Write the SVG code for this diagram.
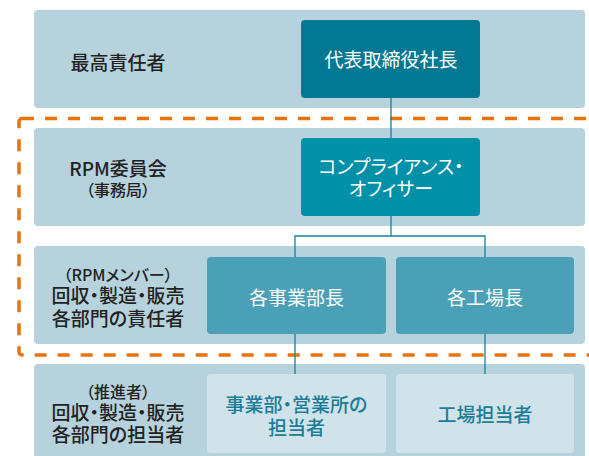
<svg xmlns="http://www.w3.org/2000/svg" width="589" height="456" viewBox="0 0 589 456">
<style>
.band{fill:#b6d3dd}
.lbl{font-family:"Noto Sans CJK JP","Noto Sans",sans-serif;font-size:19px;font-weight:500;fill:#222;text-anchor:middle;font-feature-settings:"palt"}
.sm{font-size:16px}
.nt{font-family:"Noto Sans CJK JP","Noto Sans",sans-serif;font-size:19px;font-weight:400;fill:#fff;text-anchor:middle;font-feature-settings:"palt"}
.bt{font-family:"Noto Sans CJK JP","Noto Sans",sans-serif;font-size:19px;font-weight:500;fill:#1b7d96;text-anchor:middle;font-feature-settings:"palt"}
.con{fill:none;stroke:#18809a;stroke-width:1.3}
</style>
<rect width="589" height="456" fill="#fff"/>
<g id="bands">
<rect class="band" x="34" y="10" width="551" height="98" rx="4"/>
<rect class="band" x="34" y="128" width="551" height="98" rx="4"/>
<rect class="band" x="34" y="246" width="551" height="98" rx="4"/>
<rect class="band" x="34" y="364" width="551" height="100" rx="4"/>
</g>
<g id="levels">
<text class="lbl" x="118" y="70">最高責任者</text>
<text class="lbl" x="118" y="176">RPM委員会</text>
<text class="lbl sm" x="118" y="196">（事務局）</text>
<text class="lbl sm" x="118" y="281">（RPMメンバー）</text>
<text class="lbl" x="118" y="303">回収・製造・販売</text>
<text class="lbl" x="118" y="326">各部門の責任者</text>
<text class="lbl sm" x="118" y="398">（推進者）</text>
<text class="lbl" x="118" y="420">回収・製造・販売</text>
<text class="lbl" x="118" y="442">各部門の担当者</text>
</g>
<rect id="rpm-area" x="19" y="118.5" width="600" height="236.5" rx="3" fill="none" stroke="#e8720c" stroke-width="3.5" stroke-dasharray="12 11"/>
<g id="connectors">
<path class="con" d="M391 98V138M391 216V236M295 257V236H485V257M295 334V374M485 334V374"/>
</g>
<g id="ceo">
<rect x="301" y="20" width="179" height="78" rx="4" fill="#037893"/>
<text class="nt" x="391" y="67">代表取締役社長</text>
</g>
<g id="compliance">
<rect x="301" y="138" width="179" height="78" rx="4" fill="#0090a7"/>
<text class="nt" x="391" y="174">コンプライアンス・</text>
<text class="nt" x="391" y="196">オフィサー</text>
</g>
<g id="division-heads">
<rect x="207" y="257" width="179" height="77" rx="4" fill="#4aa0b7"/>
<text class="nt" x="296.5" y="305">各事業部長</text>
</g>
<g id="plant-heads">
<rect x="396" y="257" width="178" height="77" rx="4" fill="#4aa0b7"/>
<text class="nt" x="485" y="305">各工場長</text>
</g>
<g id="division-staff">
<rect x="207" y="374" width="179" height="79" rx="4" fill="#d0e3ea"/>
<text class="bt" x="296.5" y="412">事業部・営業所の</text>
<text class="bt" x="296.5" y="435">担当者</text>
</g>
<g id="plant-staff">
<rect x="396" y="374" width="178" height="79" rx="4" fill="#d0e3ea"/>
<text class="bt" x="485" y="422">工場担当者</text>
</g>
</svg>
